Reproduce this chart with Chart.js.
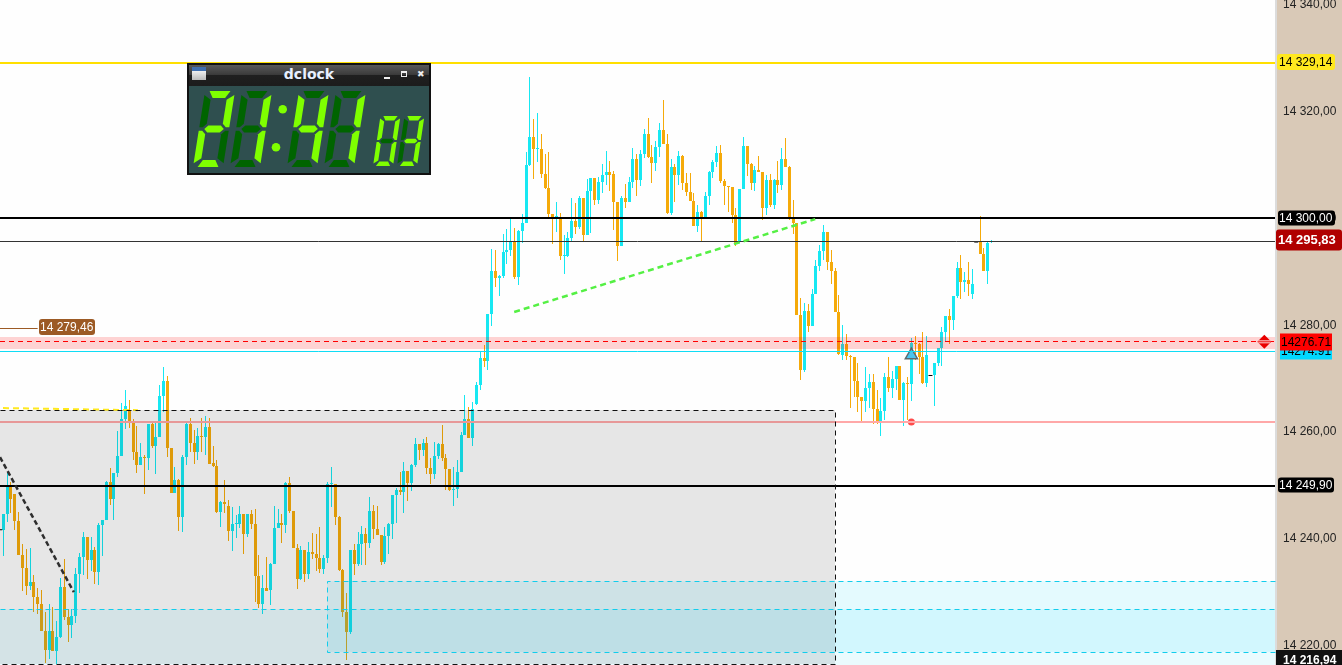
<!DOCTYPE html>
<html>
<head>
<meta charset="utf-8">
<title>dclock chart</title>
<script src="https://cdn.jsdelivr.net/npm/chart.js@4"></script>
<style>
  html, body { margin: 0; padding: 0; background: #fff; overflow: hidden; }
  #wrap { position: relative; width: 1342px; height: 665px; }
  #chart { display: block; }
  #clock { position: absolute; left: 187px; top: 63px; width: 244px; height: 112px; box-sizing: border-box;
    border: 2px solid #111; background: #2f4f4f; }
  #clock .bar { position: relative; height: 21px; background: linear-gradient(#585858, #3c3c3c 45%, #1f1f1f 50%, #1c1c1c); }
  #clock .title { position: absolute; left: 0; right: 0; top: 0; text-align: center; color: #e8f0ff;
    font: bold 14px/19px "DejaVu Sans", sans-serif; }
  #clock .icon { position: absolute; left: 3px; top: 2px; width: 14px; height: 13px; background: linear-gradient(#3f6fb0 30%, #eee 32%, #bbb); }
  #clock .min { position: absolute; left: 195px; top: 12px; width: 6px; height: 2px; background: #eee; }
  #clock .max { position: absolute; left: 212px; top: 6px; width: 4px; height: 3px; border: 1px solid #eee; border-top-width: 2px; }
  #clock .close { position: absolute; left: 228px; top: 0; color: #eee; font: bold 9px/19px "DejaVu Sans", sans-serif; }
  #clock svg { position: absolute; left: -2px; top: -2px; }
</style>
</head>
<body>
<div id="wrap">
  <canvas id="chart" width="1342" height="665"></canvas>
  <div id="clock">
    <div class="bar">
      <span class="icon"></span>
      <span class="title">dclock</span>
      <span class="min"></span><span class="max"></span><span class="close">✖</span>
    </div>
    <svg id="digits" width="244" height="112"></svg>
  </div>
</div>
<script>
// candle values, one bar per index (null = bar shown as a black dash)
const opens = [
  14241.4,14244.4,14249.7,14248.2,14243.1,14236.8,14234.3,14231.0,14231.7,14228.9,
  14227.5,14222.5,14219.0,14222.5,14218.8,14221.4,14230.7,14225.2,14223.6,14225.3,
  14233.2,14236.4,14240.1,14235.8,14237.7,14233.5,14242.4,14243.3,14250.4,14247.3,
  14252.2,14255.3,14262.2,14263.7,14261.7,14256.1,14253.6,14255.1,14255.0,14261.3,
  14257.2,14258.9,14266.6,14269.4,14256.8,14248.4,14250.9,14243.9,14255.2,14261.3,
  14257.7,14256.1,14259.1,14258.9,14260.7,14254.0,14253.4,14244.8,14246.7,14245.9,
  14241.3,14242.6,14242.6,14244.5,14240.7,14244.5,14242.6,14232.8,14227.6,14230.6,
  14230.2,14235.1,14241.8,14242.8,14242.4,14250.3,14245.0,14238.1,14232.3,14237.7,
  14233.2,14237.3,14236.9,14236.2,14234.1,14236.2,14250.1,14250.1,14243.9,14234.0,
  14226.1,14222.3,14237.7,14235.1,14238.8,14240.7,14239.0,14245.0,14241.6,14240.5,
  14235.5,14240.3,14242.6,14248.0,14248.9,14248.6,14252.5,14250.2,14253.6,14257.6,
  14256.4,14257.8,14253.1,14251.9,14255.3,14257.6,14254.9,14252.9,14248.9,14249.1,
  14252.3,14259.3,14262.3,14258.7,14265.1,14268.6,14273.7,14273.2,14281.9,14290.0,
  14288.7,14289.0,14293.5,14293.9,14295.5,14288.9,14297.5,14298.9,14309.8,14315.1,
  14312.8,14312.8,14308.1,14305.5,14300.7,14300.1,14300.1,14292.8,14292.8,14296.2,
  14299.3,14298.2,14303.6,14296.7,14304.9,14307.4,14303.3,14306.6,14307.9,14308.5,
  14308.2,14302.9,14294.7,14303.6,14302.9,14306.6,14311.0,14307.0,14311.9,14315.6,
  14311.3,14310.2,14313.2,14316.4,14313.8,14300.9,14309.5,14308.0,14311.5,14306.5,
  14304.8,14303.1,14298.4,14301.0,14300.1,14304.0,14308.5,14310.4,14312.1,14306.9,
  14305.9,14305.7,14300.5,14295.4,14305.3,14313.4,14310.0,14306.5,14308.9,14308.5,
  14301.8,14307.0,14302.3,14307.0,14306.1,14311.0,14309.5,14299.7,14299.0,14281.7,
  14271.4,14282.5,14279.6,14285.7,14290.9,14293.7,14297.3,14291.7,14290.0,14282.3,
  14274.2,14276.3,14274.1,14273.9,14269.4,14266.4,14265.6,14268.1,14269.2,14264.1,
  14261.7,14263.8,14270.1,14268.1,14269.8,14272.2,14265.8,14269.0,14268.8,14276.5,
  14276.3,14273.9,14269.0,null,14270.5,14272.7,14275.6,14278.6,14281.6,14280.8,
  14285.3,14290.5,14288.0,14288.3,14285.7,null,14295.4,14293.2,14290.0,14295.4
];
const closes = [
  14244.4,14249.7,14247.3,14243.1,14236.8,14234.3,14231.0,14231.7,14228.9,14227.5,
  14222.5,14219.0,14222.5,14218.8,14221.4,14230.7,14225.2,14223.6,14225.3,14233.2,
  14236.4,14240.1,14235.8,14237.7,14233.5,14242.4,14243.3,14250.4,14247.3,14252.1,
  14255.3,14262.2,14264.7,14261.9,14256.1,14253.6,14255.1,14255.0,14261.3,14257.1,
  14258.9,14266.6,14269.4,14256.8,14248.4,14250.9,14243.9,14255.2,14261.3,14257.7,
  14256.1,14259.1,14258.9,14260.7,14253.9,14253.4,14244.8,14246.7,14246.4,14241.3,
  14242.6,14242.8,14244.5,14240.7,14244.5,14242.6,14232.8,14227.6,14230.6,14230.0,
  14235.1,14241.8,14242.8,14242.4,14250.3,14245.0,14238.1,14232.3,14237.7,14233.2,
  14237.3,14236.9,14236.2,14234.1,14236.2,14250.1,14250.3,14243.9,14234.0,14226.1,
  14222.3,14237.7,14235.1,14238.8,14240.7,14239.0,14245.0,14241.6,14240.5,14235.5,
  14240.3,14242.6,14248.0,14248.9,14248.6,14252.5,14250.2,14253.6,14257.6,14256.4,
  14257.8,14253.1,14251.9,14255.3,14257.6,14254.9,14252.9,14248.9,14249.1,14252.3,
  14259.3,14262.3,14258.7,14264.1,14268.6,14273.7,14273.1,14281.9,14290.0,14288.7,
  14289.0,14293.5,14293.9,14295.5,14288.8,14297.5,14298.9,14309.8,14315.1,14312.8,
  14313.0,14308.1,14305.5,14300.7,14300.1,14300.3,14292.8,14293.0,14296.2,14299.3,
  14298.2,14303.6,14296.7,14304.9,14307.4,14303.3,14306.6,14307.9,14308.5,14307.9,
  14302.9,14294.7,14303.6,14302.9,14306.6,14311.0,14307.0,14311.9,14315.6,14311.3,
  14310.2,14313.2,14316.4,14313.8,14300.9,14309.5,14308.0,14311.5,14306.5,14304.8,
  14303.1,14298.4,14301.0,14300.1,14304.0,14308.5,14310.4,14312.1,14306.9,14305.9,
  14305.8,14300.5,14295.2,14305.3,14313.4,14310.0,14306.5,14308.9,14308.5,14301.8,
  14307.0,14302.3,14307.0,14306.1,14311.0,14309.5,14299.7,14299.0,14281.7,14271.4,
  14282.5,14279.6,14285.7,14290.9,14293.7,14297.3,14291.7,14290.0,14282.3,14274.4,
  14276.3,14274.0,14274.0,14269.4,14266.4,14265.6,14268.1,14269.2,14264.1,14261.7,
  14263.8,14270.1,14268.1,14269.8,14272.2,14265.8,14269.0,14268.8,14276.5,14276.3,
  14273.9,14269.0,14274.2,null,14272.7,14275.6,14278.6,14281.6,14280.8,14285.3,
  14290.5,14288.0,14288.3,14287.6,14287.6,null,14293.2,14290.0,14295.2,14295.6
];
const highs = [
  14244.4,14252.4,14250.5,14248.2,14244.8,14238.8,14237.8,14238.0,14233.0,14230.5,
  14230.3,14226.1,14227.6,14227.0,14224.4,14232.4,14236.0,14226.6,14226.6,14234.3,
  14237.1,14241.0,14240.1,14240.1,14238.3,14242.7,14243.4,14250.6,14253.1,14252.1,
  14260.0,14265.2,14267.7,14265.8,14262.2,14260.9,14257.7,14255.5,14261.3,14261.9,
  14261.7,14268.6,14271.9,14270.3,14256.8,14253.2,14251.1,14255.5,14261.6,14262.4,
  14260.2,14260.5,14262.4,14262.8,14262.4,14257.2,14254.6,14246.9,14250.8,14247.1,
  14245.8,14244.3,14245.9,14244.5,14244.5,14245.2,14245.4,14236.8,14233.0,14236.4,
  14235.3,14245.9,14245.4,14244.5,14250.4,14251.4,14245.0,14238.8,14238.5,14237.7,
  14239.2,14240.9,14240.7,14242.0,14236.8,14250.4,14253.3,14250.1,14244.1,14234.1,
  14229.7,14237.7,14238.9,14241.1,14242.2,14241.8,14247.6,14246.1,14246.0,14240.5,
  14242.0,14242.8,14248.0,14249.3,14252.3,14254.2,14252.5,14253.8,14258.7,14257.6,
  14258.5,14258.9,14254.9,14257.9,14257.8,14261.1,14255.7,14252.9,14253.3,14254.6,
  14259.8,14266.7,14264.5,14265.4,14269.2,14274.8,14276.1,14281.9,14294.1,14293.9,
  14289.2,14296.9,14297.8,14299.9,14298.0,14297.6,14300.6,14312.3,14326.3,14318.5,
  14319.6,14315.6,14311.9,14312.3,14300.7,14302.9,14300.8,14296.7,14297.3,14303.6,
  14302.7,14304.0,14303.6,14307.2,14307.4,14307.4,14307.6,14310.0,14312.5,14310.6,
  14308.7,14302.9,14304.0,14306.3,14307.6,14313.0,14311.9,14312.7,14316.6,14318.6,
  14313.6,14314.3,14317.7,14322.0,14315.6,14311.0,14310.0,14312.5,14311.7,14308.3,
  14308.3,14304.6,14302.3,14301.2,14304.8,14308.7,14310.8,14313.4,14313.6,14307.2,
  14305.9,14305.7,14301.8,14305.3,14315.1,14313.4,14310.2,14309.7,14311.5,14308.5,
  14308.0,14308.2,14307.2,14310.6,14313.0,14314.9,14309.6,14303.3,14299.0,14284.9,
  14283.9,14283.8,14286.6,14292.0,14294.9,14298.6,14297.3,14293.9,14290.5,14285.5,
  14279.9,14278.2,14274.2,14273.9,14272.7,14266.4,14272.0,14270.7,14270.7,14267.7,
  14266.2,14270.8,14273.8,14271.3,14272.2,14272.2,14269.2,14270.1,14277.4,14277.8,
  14276.4,14278.6,14277.8,null,14272.7,14275.6,14279.5,14281.6,14282.9,14285.3,
  14291.7,14293.0,14289.8,14291.7,14290.4,null,14300.3,14294.3,14295.4,14295.8
];
const lows = [
  14236.6,14242.9,14244.6,14241.5,14236.8,14230.0,14229.3,14230.2,14226.0,14225.8,
  14222.5,14216.6,14217.3,14218.8,14216.3,14221.3,14224.6,14220.5,14221.2,14224.1,
  14229.6,14233.0,14232.3,14233.8,14231.3,14231.1,14236.6,14243.3,14246.1,14243.3,
  14251.3,14255.3,14260.4,14260.5,14254.6,14252.2,14253.6,14248.2,14252.7,14256.9,
  14251.9,14258.9,14263.6,14255.2,14248.4,14248.4,14241.3,14241.1,14253.6,14256.1,
  14253.8,14254.6,14256.1,14255.5,14253.9,14253.3,14244.6,14242.1,14244.6,14239.3,
  14237.6,14240.0,14241.8,14237.0,14240.1,14241.6,14228.0,14226.8,14225.7,14230.0,
  14227.4,14235.1,14241.8,14239.0,14240.9,14244.6,14238.0,14230.4,14232.1,14231.7,
  14232.3,14236.0,14233.7,14233.4,14233.2,14235.3,14245.8,14242.4,14233.8,14225.1,
  14217.1,14222.0,14233.0,14234.7,14234.9,14234.9,14238.1,14239.8,14240.5,14234.9,
  14235.1,14237.0,14239.8,14242.8,14248.0,14244.6,14246.9,14248.8,14253.3,14254.6,
  14255.3,14251.9,14250.1,14251.0,14254.8,14254.4,14248.9,14248.8,14245.9,14247.4,
  14252.3,14259.3,14258.6,14257.2,14264.9,14267.7,14271.9,14271.4,14279.7,14287.0,
  14285.3,14288.7,14291.3,14292.8,14288.5,14287.3,14295.2,14298.9,14309.7,14307.2,
  14310.4,14307.4,14305.4,14300.1,14295.0,14297.3,14292.0,14289.4,14292.6,14295.6,
  14296.9,14297.8,14295.5,14296.7,14297.1,14302.3,14302.5,14304.6,14306.1,14304.9,
  14297.6,14291.8,14294.7,14301.8,14302.9,14305.6,14304.0,14305.9,14311.2,14311.2,
  14306.5,14308.7,14311.4,14313.8,14300.6,14300.5,14302.9,14306.1,14305.2,14304.0,
  14303.0,14298.4,14297.3,14295.6,14300.1,14302.3,14307.4,14309.5,14306.5,14302.3,
  14301.0,14299.0,14294.7,14295.2,14305.3,14307.8,14305.2,14305.0,14308.5,14299.5,
  14300.5,14302.0,14301.6,14304.6,14305.2,14309.5,14299.5,14296.9,14281.7,14269.6,
  14271.1,14278.6,14279.6,14285.7,14290.0,14292.0,14290.2,14287.5,14282.3,14274.2,
  14273.3,14273.3,14264.3,14266.4,14263.6,14261.7,14263.6,14264.3,14261.4,14261.4,
  14259.0,14262.1,14267.3,14266.2,14267.7,14265.8,14260.9,14262.1,14265.6,14273.3,
  14270.7,14268.8,14268.2,null,14264.7,14272.2,14272.2,14276.7,14276.3,14278.9,
  14285.0,14284.7,14286.0,14285.3,14284.7,null,14293.2,14290.0,14287.6,14295.2
];
const tickValues = [14340, 14320, 14300, 14280, 14260, 14240, 14220];

// drawn levels and shapes, in bar index / price units
const xMin = -0.865, xMax = 333.3;
const yMin = 14216.16, yMax = 14340.75;
const levelYellow = 14329.14, levelRound = 14300, levelLast = 14295.83, levelBrown = 14279.46;
const levelRed = 14276.71, levelCyan = 14274.91, levelPink = 14261.7, levelBlack = 14249.9, levelLow = 14216.94;
const trendGreen = [{x: 133.9, y: 14282.3}, {x: 212.8, y: 14299.7}];
const trendBlack = [{x: -0.865, y: 14255.1}, {x: 18.5, y: 14229.8}];
const trendYellow = [{x: -0.08, y: 14264.3}, {x: 35.3, y: 14263.9}];
const blackDashes = [{x: -0.8, y: 14241.5}, {x: 243, y: 14270.4}, {x: 255, y: 14295.4}];
const dotPoint = [{x: 238, y: 14261.7}];
const arrowPoint = [{x: 238, y: 14274.2}];
const scrollPoint = [{x: 330.5, y: 14276.71}];

// open: which side of the box has no dashed edge
const zones = [
  {x0: xMin, x1: xMax, y0: 14277.7, y1: 14275.4, fill: "rgba(255,0,0,0.17)"},
  {x0: 84.85, x1: xMax, y0: 14231.9, y1: 14218.55, fill: "rgba(0,215,255,0.1)", stroke: "#12cdec", open: "right"},
  {x0: xMin, x1: xMax, y0: 14226.65, y1: yMin, fill: "rgba(0,215,255,0.08)", stroke: "#12cdec", topOnly: true},
  {x0: xMin, x1: 218, y0: 14263.85, y1: 14216.35, fill: "rgba(0,0,0,0.095)", stroke: "#111", open: "left"}
];

const upColor = "#17e8f2", downColor = "#f5aa0a";

const money = (v) => {
  const [whole, dec] = v.toFixed(2).split(".");
  return whole.slice(0, 2) + " " + whole.slice(2) + "," + dec;
};

const tags = [
  {price: levelCyan, text: levelCyan.toFixed(2), x: 1280, w: 52, h: 17, dy: 0, bg: "#00d8ff", fg: "#000", font: "12px 'Liberation Sans'", r: 0, tx: 1281},
  {price: levelRed, text: levelRed.toFixed(2), x: 1280, w: 52, h: 17, dy: 0, bg: "#ff0000", fg: "#000", font: "12px 'Liberation Sans'", r: 0, tx: 1281},
  {price: levelYellow, text: money(levelYellow), x: 1277, w: 58, h: 16, dy: 0, bg: "#ffe81f", fg: "#000", font: "12px 'Liberation Sans'", r: 3, tx: 1279},
  {price: levelRound, text: money(levelRound), x: 1278, w: 57, h: 15, dy: 0, bg: "#000", fg: "#fff", font: "12px 'Liberation Sans'", r: 3, tx: 1279},
  {price: levelLast, text: money(levelLast), x: 1276, w: 66, h: 21, dy: 0, bg: "#b00000", fg: "#fff", font: "bold 13px 'Liberation Sans'", r: 3, tx: 1278},
  {price: levelBlack, text: money(levelBlack), x: 1278, w: 56, h: 15, dy: 0, bg: "#000", fg: "#fff", font: "12px 'Liberation Sans'", r: 3, tx: 1279},
  {price: levelLow, text: money(levelLow), x: 1276, w: 66, h: 22, dy: -1, bg: "#111", fg: "#fff", font: "bold 12px 'Liberation Sans'", r: 0, tx: 1283},
  {price: levelBrown, text: money(levelBrown), x: 39, w: 56, h: 16, dy: 0, bg: "#9c5a25", fg: "#fff", font: "12px 'Liberation Sans'", r: 3, tx: 40}
];

const indexes = opens.map((_, i) => i).filter((i) => opens[i] !== null);
const colorFor = (ctx) => {
  if (!ctx.raw) return upColor;
  const i = ctx.raw.x;
  return closes[i] >= opens[i] ? upColor : downColor;
};

// nudge: the terminal rounds some levels a pixel off the straight price scale
const hLine = (label, price, color, width, dash, nudge) => ({
  type: "line", label, order: 0, snap: true, nudge: nudge || 0,
  data: [{x: xMin, y: price}, {x: xMax, y: price}],
  borderColor: color, borderWidth: width, borderDash: dash || [], pointRadius: 0, borderCapStyle: "butt", tension: 0,
});
const trend = (label, points, color, width, dash) => ({
  type: "line", label, order: 0,
  data: points, borderColor: color, borderWidth: width, borderDash: dash, pointRadius: 0, tension: 0, borderCapStyle: "butt",
});
const marks = (label, points, style, radius, bg, border, borderWidth) => ({
  type: "scatter", label, order: 0, data: points, showLine: false,
  pointStyle: style, pointRadius: radius, backgroundColor: bg, borderColor: border, pointBorderWidth: borderWidth,
});

// right-hand price panel, painted under everything
const panelPlugin = {
  id: "panel",
  beforeDraw(chart) {
    const { ctx, chartArea: a } = chart;
    ctx.save();
    ctx.fillStyle = "#fefefe";
    ctx.fillRect(0, 0, a.right, chart.height);
    ctx.fillStyle = "#d9c9b7";
    ctx.fillRect(a.right, 0, chart.width - a.right, chart.height);
    ctx.fillStyle = "#dcdcdc";
    ctx.fillRect(a.right, 0, 2, chart.height);
    ctx.restore();
  },
};

// keep bars and flat levels on whole pixels, like the original terminal draws them
const snapPlugin = {
  id: "snap",
  afterDatasetsUpdate(chart) {
    chart.data.datasets.forEach((ds, n) => {
      const meta = chart.getDatasetMeta(n);
      if (ds.type === "bar") {
        meta.data.forEach((el) => {
          el.x = Math.floor(el.x) + 0.5;
          el.y = Math.round(el.y);
          el.base = Math.round(el.base);
          if (el.y === el.base) el.base += 1;
        });
      } else if (ds.snap) {
        meta.data.forEach((el) => {
          const y = el.y + ds.nudge;
          el.y = ds.borderWidth % 2 === 1 ? Math.floor(y) + 0.5 : Math.round(y);
        });
      }
    });
  },
};

// translucent boxes go over the candles, that is how they look in the picture
const zonePlugin = {
  id: "zones",
  afterDatasetsDraw(chart) {
    const { ctx, scales: { x, y } } = chart;
    const box = (z) => ({
      left: Math.round(x.getPixelForValue(z.x0)),
      right: Math.round(x.getPixelForValue(z.x1)),
      top: Math.round(y.getPixelForValue(z.y0)),
      bottom: Math.round(y.getPixelForValue(z.y1)),
    });
    ctx.save();
    zones.forEach((z) => {
      const b = box(z);
      ctx.fillStyle = z.fill;
      ctx.fillRect(b.left, b.top, b.right - b.left, b.bottom - b.top);
    });
    ctx.lineWidth = 1;
    ctx.setLineDash([5, 4]);
    zones.filter((z) => z.stroke).forEach((z) => {
      const b = box(z);
      const l = b.left + 0.5, r = b.right + 0.5, t = b.top + 0.5, m = b.bottom + 0.5;
      ctx.strokeStyle = z.stroke;
      ctx.beginPath();
      if (z.topOnly) {
        ctx.moveTo(l, t);
        ctx.lineTo(r, t);
      } else if (z.open === "left") {
        ctx.moveTo(l, t);
        ctx.lineTo(r, t);
        ctx.lineTo(r, m);
        ctx.lineTo(l, m);
      } else {
        ctx.moveTo(r, t);
        ctx.lineTo(l, t);
        ctx.lineTo(l, m);
        ctx.lineTo(r, m);
      }
      ctx.stroke();
    });
    ctx.restore();
  },
};

const tagPlugin = {
  id: "tags",
  afterDraw(chart) {
    const { ctx, scales: { y } } = chart;
    ctx.save();
    ctx.textBaseline = "middle";
    ctx.textAlign = "left";
    tags.forEach((t) => {
      const cy = Math.round(y.getPixelForValue(t.price));
      ctx.fillStyle = t.bg;
      ctx.beginPath();
      ctx.roundRect(t.x, cy - t.h / 2, t.w, t.h, t.r);
      ctx.fill();
      ctx.fillStyle = t.fg;
      ctx.font = t.font;
      ctx.fillText(t.text, t.tx, cy + 0.5 + t.dy);
    });
    ctx.restore();
  },
};

new Chart(document.getElementById("chart").getContext("2d"), {
  data: {
    datasets: [
      // same order value: the earlier dataset ends up on top
      marks("scrollThin", scrollPoint, "line", 6, "#e60000", "#e60000", 1),
      marks("scrollGap", scrollPoint, "line", 6, "#fff", "#fff", 3),
      marks("scroll", scrollPoint, "rectRot", 7, "#e60000", "#e60000", 0),
      trend("trendBlack", trendBlack, "#333", 2.5, [5, 3]),
      trend("trendYellow", trendYellow, "#ffe91f", 2, [6, 4]),
      trend("trendGreen", trendGreen, "#55f044", 2.5, [6, 4]),
      hLine("yellow", levelYellow, "#ffdf00", 2, [], 1),
      hLine("round", levelRound, "#000", 2),
      hLine("last", levelLast, "#333", 1, [], 1.3),
      hLine("red", levelRed, "#ff0000", 1, [5, 4]),
      hLine("cyan", levelCyan, "#10dcf5", 1),
      hLine("pink", levelPink, "#ffa8a8", 2),
      hLine("black", levelBlack, "#000", 2, [], 1),
      {
        type: "line", label: "brown", order: 0, snap: true, nudge: 1,
        data: [{x: xMin, y: levelBrown}, {x: 9, y: levelBrown}],
        borderColor: "#9c5a25", borderWidth: 1, pointRadius: 0,
      },
      marks("dashes", blackDashes, "line", 2, "#000", "#000", 1),
      marks("dot", dotPoint, "circle", 3.5, "#ff4a4a", "#ff4a4a", 0),
      marks("arrow", arrowPoint, "triangle", 7, "#4cc4ee", "#5a6a70", 1.5),
      {
        type: "bar", label: "bodies", order: 1, grouped: false, barThickness: 3, inflateAmount: 0, borderWidth: 0,
        data: indexes.map((i) => ({x: i, y: [opens[i], closes[i]]})),
        backgroundColor: colorFor,
      },
      {
        type: "bar", label: "wicks", order: 2, grouped: false, barThickness: 1, inflateAmount: 0, borderWidth: 0,
        data: indexes.map((i) => ({x: i, y: [lows[i], highs[i]]})),
        backgroundColor: colorFor,
      },
    ],
  },
  options: {
    responsive: false,
    animation: false,
    events: [],
    layout: { padding: 0, autoPadding: false },
    plugins: { legend: { display: false }, tooltip: { enabled: false } },
    scales: {
      x: { type: "linear", display: false, min: xMin, max: xMax, offset: false },
      y: {
        position: "right",
        min: yMin,
        max: yMax,
        afterBuildTicks: (s) => { s.ticks = tickValues.map((value) => ({value})); },
        afterFit: (s) => { s.width = 67; s.paddingTop = 0; s.paddingBottom = 0; },
        grid: { display: false, drawTicks: false },
        border: { display: false },
        ticks: {
          padding: 8,
          labelOffset: 1,
          color: "#222",
          autoSkip: false,
          font: { family: "'Liberation Sans'", size: 12 },
          callback: (v) => money(v),
        },
      },
    },
  },
  plugins: [panelPlugin, snapPlugin, zonePlugin, tagPlugin],
});

// seven-segment clock digits
const segOn = {0: "abcdef", 1: "bc", 2: "abdeg", 3: "abcdg", 4: "bcfg"};
function segShapes(W, H, T) {
  const m = H / 2, g = T * 0.25;
  return {
    a: [[g + T * 0.4, 0], [W - g - T * 0.4, 0], [W - g - T, T], [g + T, T]],
    b: [[W, g + T * 0.3], [W, m - g], [W - T * 0.5, m - g], [W - T, m - T * 0.5 - g], [W - T, T + g]],
    c: [[W, m + g], [W, H - g - T * 0.3], [W - T, H - T - g], [W - T, m + T * 0.5 + g], [W - T * 0.5, m + g]],
    d: [[g + T, H - T], [W - g - T, H - T], [W - g - T * 0.4, H], [g + T * 0.4, H]],
    e: [[0, m + g], [T * 0.5, m + g], [T, m + T * 0.5 + g], [T, H - T - g], [0, H - g - T * 0.3]],
    f: [[0, g + T * 0.3], [T, T + g], [T, m - T * 0.5 - g], [T * 0.5, m - g], [0, m - g]],
    g: [[T * 0.5 + g, m], [T + g, m - T * 0.5], [W - T - g, m - T * 0.5], [W - T * 0.5 - g, m], [W - T - g, m + T * 0.5], [T + g, m + T * 0.5]],
  };
}
function drawDigit(svg, digit, left, top, W, H, T, slant) {
  const shapes = segShapes(W, H, T);
  Object.keys(shapes).forEach((name) => {
    const pts = shapes[name].map(([x, y]) => (left + x + slant * (1 - y / H)).toFixed(1) + "," + (top + y).toFixed(1));
    const p = document.createElementNS("http://www.w3.org/2000/svg", "polygon");
    p.setAttribute("points", pts.join(" "));
    p.setAttribute("fill", segOn[digit].includes(name) ? "#7fff00" : "#006400");
    svg.appendChild(p);
  });
}
const clockSvg = document.getElementById("digits");
[[2, 6], [1, 43], [4, 100], [1, 137]].forEach(([d, left]) => drawDigit(clockSvg, d, left, 28, 30, 76, 7, 12));
[[0, 186], [3, 210]].forEach(([d, left]) => drawDigit(clockSvg, d, left, 53, 20, 50, 4.5, 7.5));
[[95.7, 46.3], [89, 84.3]].forEach(([cx, cy]) => {
  const c = document.createElementNS("http://www.w3.org/2000/svg", "circle");
  c.setAttribute("cx", cx);
  c.setAttribute("cy", cy);
  c.setAttribute("r", 4.3);
  c.setAttribute("fill", "#7fff00");
  clockSvg.appendChild(c);
});
</script>
</body>
</html>
